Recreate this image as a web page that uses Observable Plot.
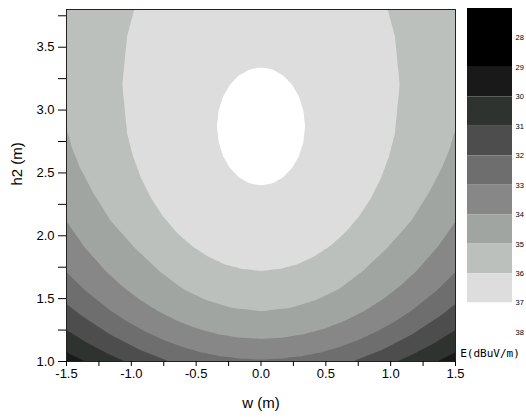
<!DOCTYPE html>
<html><head><meta charset="utf-8">
<script src="https://cdn.jsdelivr.net/npm/d3@7"></script>
<script src="https://cdn.jsdelivr.net/npm/@observablehq/plot@0.6"></script>
<style>
html,body{margin:0;padding:0;background:#fff;}
#wrap{position:relative;width:526px;height:419px;overflow:hidden;}
#main{position:absolute;left:0;top:0;}
#legend{position:absolute;left:450px;top:0;}
</style></head><body><div id="wrap"><div id="main"></div><div id="legend"></div></div>
<script>
// ---- colour levels (dBuV/m) ----
const thresholds = [29, 30, 31, 32, 33, 34, 35, 36, 37];
const bandColors = ["#000000", "#191919", "#2f332f", "#4d4d4d", "#6e6e6e", "#878787", "#a1a5a1", "#bcc0bc", "#dddddd", "#ffffff"];
const legendLow  = [27, 29, 30, 31, 32, 33, 34, 35, 36, 37];
const legendHigh = [29, 30, 31, 32, 33, 34, 35, 36, 37, 38];
const legendTicks = [28, 29, 30, 31, 32, 33, 34, 35, 36, 37, 38];

// ---- axis ticks ----
const xTicks = [-1.5, -1.25, -1.0, -0.75, -0.5, -0.25, 0, 0.25, 0.5, 0.75, 1.0, 1.25, 1.5];
const yTicks = [1.0, 1.25, 1.5, 1.75, 2.0, 2.25, 2.5, 2.75, 3.0, 3.25, 3.5, 3.75];

// ---- contour lines: [w (m), h2 (m)] for w >= 0 (field is symmetric in w) ----
const contour30 = [[1.355, 1.0], [1.43, 1.037], [1.5, 1.075]];
const contour31 = [[1.049, 1.0], [1.183, 1.063], [1.336, 1.146], [1.5, 1.25]];
const contour32 = [[0.704, 1.0], [0.929, 1.09], [1.164, 1.215], [1.387, 1.366], [1.5, 1.458]];
const contour33 = [[0, 1.015], [0.153, 1.021], [0.306, 1.04], [0.457, 1.071], [0.606, 1.115], [0.752, 1.171], [0.895, 1.239], [1.033, 1.318], [1.166, 1.408], [1.354, 1.563], [1.5, 1.71]];
const contour34 = [[0, 1.18], [0.163, 1.189], [0.325, 1.215], [0.484, 1.259], [0.64, 1.32], [0.79, 1.397], [0.935, 1.491], [1.073, 1.60], [1.202, 1.723], [1.368, 1.918], [1.5, 2.114]];
const contour35 = [[0, 1.40], [0.22, 1.425], [0.42, 1.486], [0.60, 1.575], [0.78, 1.715], [0.97, 1.90], [1.16, 2.12], [1.30, 2.35], [1.40, 2.55], [1.46, 2.70], [1.5, 2.85]];
const contour36 = [[0, 1.72], [0.14, 1.733], [0.277, 1.77], [0.409, 1.833], [0.535, 1.918], [0.651, 2.026], [0.757, 2.153], [0.849, 2.299], [0.927, 2.46], [0.989, 2.634], [1.034, 2.817], [1.07, 3.2], [1.034, 3.583], [0.978, 3.8]];
const contour37 = [[0, 2.40], [0.088, 2.416], [0.17, 2.463], [0.24, 2.538], [0.294, 2.635], [0.328, 2.748], [0.34, 2.87], [0.328, 2.992], [0.294, 3.105], [0.24, 3.202], [0.17, 3.277], [0.088, 3.324], [0, 3.34]];
// spot values at corners, edges and the maximum
const spotW = [0, 1.5, 0, 0, 1.5];
const spotH = [1.0, 1.0, 2.87, 3.8, 3.8];
const spotE = [32.9, 29.6, 37.4, 36.5, 35.2];

// ---- build the sample table (mirror w -> -w) ----
const lines = [[30, contour30], [31, contour31], [32, contour32], [33, contour33], [34, contour34], [35, contour35], [36, contour36], [37, contour37]];
const samples = [];
function add(w, h, v) {
  samples.push({w, h, v});
  if (w > 0) samples.push({w: -w, h, v});
}
for (const [lvl, pts] of lines) for (const [w, h] of pts) add(w, h, lvl);
spotW.forEach((w, i) => add(w, spotH[i], spotE[i]));

const colorOpts = {type: "threshold", domain: thresholds, range: bandColors};
const fontFamily = "'Liberation Sans', Arial, sans-serif";
const halfLabel = d => (Math.abs(d * 2 - Math.round(d * 2)) < 1e-9 ? d.toFixed(1) : "");

const main = Plot.plot({
  width: 475, height: 419,
  marginLeft: 66, marginRight: 20, marginTop: 9, marginBottom: 58,
  style: {fontFamily, background: "transparent", color: "#000", overflow: "visible"},
  x: {domain: [-1.5, 1.5]},
  y: {domain: [1.0, 3.8]},
  color: colorOpts,
  marks: [
    Plot.contour(samples, {x: "w", y: "h", fill: "v", thresholds, interpolate: "barycentric"}),
    Plot.frame({stroke: "#222"}),
    Plot.axisX({ticks: xTicks, tickSize: 5, tickPadding: 2, fontSize: 13, label: null, tickFormat: halfLabel}),
    Plot.axisY({ticks: yTicks, tickSize: 8, tickPadding: 4, fontSize: 13, label: null, tickFormat: halfLabel}),
    Plot.text(["w (m)"], {text: d => d, frameAnchor: "bottom", dy: 46, fontSize: 15}),
    Plot.text(["h2 (m)"], {text: d => d, frameAnchor: "left", rotate: -90, dx: -49, fontSize: 15})
  ]
});
document.getElementById("main").appendChild(main);

const bands = legendLow.map((lo, i) => ({lo, hi: legendHigh[i]}));
const legend = Plot.plot({
  width: 76, height: 419,
  marginLeft: 17, marginRight: 14, marginTop: 8, marginBottom: 87,
  style: {fontFamily, background: "transparent", color: "#000", overflow: "visible"},
  y: {domain: [27, 38], reverse: true, axis: null},
  color: colorOpts,
  marks: [
    Plot.rect(bands, {y1: "lo", y2: "hi", fill: "lo"}),
    Plot.axisY({ticks: legendTicks, anchor: "right", tickSize: 0, tickPadding: 3, fontSize: 7.5, label: null}),
    Plot.text(["E(dBuV/m)"], {text: d => d, frameAnchor: "bottom", dy: 24, fontSize: 11, fontFamily: "'DejaVu Sans Mono', monospace"})
  ]
});
document.getElementById("legend").appendChild(legend);
</script></body></html>
